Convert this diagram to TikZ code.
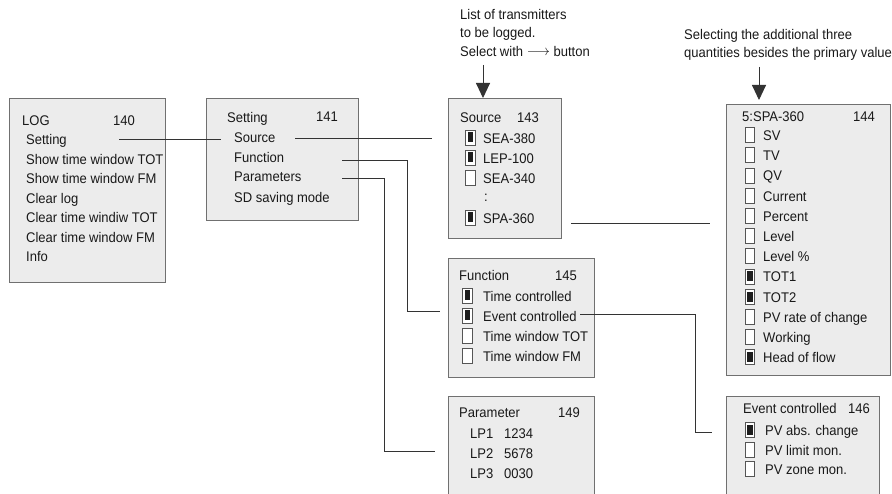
\documentclass[tikz,border=0pt]{standalone}
\usepackage{fontspec}
\setmainfont{Liberation Sans}[FakeStretch=0.93]
\usetikzlibrary{arrows.meta}
\definecolor{boxfill}{HTML}{ECECEC}
\definecolor{boxline}{HTML}{707070}
\definecolor{lineclr}{HTML}{333333}
\definecolor{cbline}{HTML}{555555}
\definecolor{cbfill}{HTML}{1E1E1E}
\begin{document}
\begin{tikzpicture}[x=1pt,y=-1pt,
  font=\fontsize{14}{16}\selectfont,
  box/.style={draw=boxline, fill=boxfill, line width=0.9pt, inner sep=0pt, anchor=north west},
  txt/.style={anchor=base west, inner sep=0pt, text=black!90},
  cb/.style={draw=cbline, fill=white, line width=0.7pt, minimum width=9.5pt, minimum height=15pt, inner sep=0pt},
  cbon/.style={cb, path picture={\fill[cbfill] ([shift={(2.2pt,2.5pt)}]path picture bounding box.south west) rectangle ([shift={(-2.2pt,-2.5pt)}]path picture bounding box.north east);}},
  conn/.style={draw=lineclr, line width=1pt},
  ann/.style={draw=lineclr, line width=0.9pt, -{Triangle[width=14pt,length=15pt]}}
]
\clip (0,0) rectangle (892,494);
\fill[white] (0,0) rectangle (892,494);

% ---------- boxes ----------
\node[box, minimum width=156pt, minimum height=184pt] (b140) at (9,98) {};
\node[box, minimum width=152pt, minimum height=122pt] (b141) at (206,98) {};
\node[box, minimum width=113pt, minimum height=140pt] (b143) at (448,98) {};
\node[box, minimum width=164pt, minimum height=271pt] (b144) at (726,104) {};
\node[box, minimum width=146pt, minimum height=119pt] (b145) at (448,258) {};
\node[box, minimum width=146pt, minimum height=130pt] (b149) at (448,396) {};
\node[box, minimum width=153pt, minimum height=130pt] (b146) at (726,396) {};

% ---------- box 140 ----------
\node[txt] (t140a) at (22,125.5) {LOG};
\node[txt] (t140n) at (113,125.5) {140};
\node[txt] (t140b) at (26,144.5) {Setting};
\node[txt] (t140c) at (26,164.5) {Show time window TOT};
\node[txt] (t140d) at (26,183.5) {Show time window FM};
\node[txt] (t140e) at (26,203.5) {Clear log};
\node[txt] (t140f) at (26,222.5) {Clear time windiw TOT};
\node[txt] (t140g) at (26,242.5) {Clear time window FM};
\node[txt] (t140h) at (26,261.5) {Info};

% ---------- box 141 ----------
\node[txt] (t141a) at (227,122.5) {Setting};
\node[txt] (t141n) at (316,122) {141};
\node[txt] (t141b) at (234,142.5) {Source};
\node[txt] (t141c) at (234,162.5) {Function};
\node[txt] (t141d) at (234,181.5) {Parameters};
\node[txt] (t141e) at (234,202.5) {SD saving mode};

% ---------- box 143 ----------
\node[txt] (t143a) at (460,122.5) {Source};
\node[txt] (t143n) at (517,122.5) {143};
\node[cbon] (c143a) at (470.5,137.5) {};
\node[txt] (t143b) at (483,143.5) {SEA-380};
\node[cbon] (c143b) at (470.5,157.5) {};
\node[txt] (t143c) at (483,163.5) {LEP-100};
\node[cb] (c143c) at (470.5,177.5) {};
\node[txt] (t143d) at (483,183.5) {SEA-340};
\node[txt] (t143e) at (484,202) {:};
\node[cbon] (c143f) at (470.5,217.5) {};
\node[txt] (t143f) at (483,223.5) {SPA-360};

% ---------- box 144 ----------
\node[txt] (t144a) at (742,121.5) {5:SPA-360};
\node[txt] (t144n) at (853,121.5) {144};
\node[cb]   (c144a) at (750,135) {};   \node[txt] (t144b) at (763,140.5) {SV};
\node[cb]   (c144b) at (750,155.2) {}; \node[txt] (t144c) at (763,160.7) {TV};
\node[cb]   (c144c) at (750,175.4) {}; \node[txt] (t144d) at (763,180.9) {QV};
\node[cb]   (c144d) at (750,195.6) {}; \node[txt] (t144e) at (763,201.1) {Current};
\node[cb]   (c144e) at (750,215.8) {}; \node[txt] (t144f) at (763,221.3) {Percent};
\node[cb]   (c144f) at (750,236) {};   \node[txt] (t144g) at (763,241.5) {Level};
\node[cb]   (c144g) at (750,256.2) {}; \node[txt] (t144h) at (763,261.7) {Level \%};
\node[cbon] (c144h) at (750,276.4) {}; \node[txt] (t144i) at (763,281.9) {TOT1};
\node[cbon] (c144i) at (750,296.6) {}; \node[txt] (t144j) at (763,302.1) {TOT2};
\node[cb]   (c144j) at (750,316.8) {}; \node[txt] (t144k) at (763,322.3) {PV rate of change};
\node[cb]   (c144k) at (750,337) {};   \node[txt] (t144l) at (763,342.5) {Working};
\node[cbon] (c144l) at (750,357.2) {}; \node[txt] (t144m) at (763,362.7) {Head of flow};

% ---------- box 145 ----------
\node[txt] (t145a) at (459,280.5) {Function};
\node[txt] (t145n) at (555,280.5) {145};
\node[cbon] (c145a) at (467.5,295.5) {}; \node[txt] (t145b) at (483,301.5) {Time controlled};
\node[cbon] (c145b) at (467.5,315.5) {}; \node[txt] (t145c) at (483,321.5) {Event controlled};
\node[cb]   (c145c) at (467.5,335.5) {}; \node[txt] (t145d) at (483,341.5) {Time window TOT};
\node[cb]   (c145d) at (467.5,355.5) {}; \node[txt] (t145e) at (483,361.5) {Time window FM};

% ---------- box 149 ----------
\node[txt] (t149a) at (459,417.5) {Parameter};
\node[txt] (t149n) at (558,417.5) {149};
\node[txt] (t149b) at (470,438.5) {LP1}; \node[txt] (t149c) at (504,438.5) {1234};
\node[txt] (t149d) at (470,458.5) {LP2}; \node[txt] (t149e) at (504,458.5) {5678};
\node[txt] (t149f) at (470,478.5) {LP3}; \node[txt] (t149g) at (504,478.5) {0030};

% ---------- box 146 ----------
\node[txt] (t146a) at (743,413.5) {Event controlled};
\node[txt] (t146n) at (848,413.5) {146};
\node[cbon] (c146a) at (750,430) {}; \node[txt] (t146b) at (765,435.5) {PV abs. change};
\node[cb]   (c146b) at (750,450) {}; \node[txt] (t146c) at (765,455.5) {PV limit mon.};
\node[cb]   (c146c) at (750,469) {}; \node[txt] (t146d) at (765,474.5) {PV zone mon.};

% ---------- annotations ----------
\node[txt] (n1a) at (460,19.5) {List of transmitters};
\node[txt] (n1b) at (460,38) {to be logged.};
\node[txt] (n1c) at (460,56.5) {Select with \raisebox{0.5pt}{$\longrightarrow$} button};
\node[txt] (n2a) at (684,39.5) {Selecting the additional three};
\node[txt] (n2b) at (684,57.5) {quantities besides the primary value};

\coordinate (a1s) at (483,65);
\coordinate (a2s) at (759,67);
\draw[ann] (a1s) -- (a1s |- b143.north);
\draw[ann] (a2s) -- ([yshift=4pt]a2s |- b144.north);

% ---------- connectors ----------
\coordinate (k1s) at (119,140);
\coordinate (k1e) at (221,140);
\draw[conn] (k1s) -- (k1e);

\coordinate (k2s) at (295,139);
\coordinate (k2e) at (432,139);
\draw[conn] (k2s) -- (k2e);

\coordinate (k3s) at (342,161);
\coordinate (k3e) at (440,312);
\draw[conn] (k3s) -- (407.5,161) |- (k3e);

\coordinate (k4s) at (342,179);
\coordinate (k4e) at (435,451);
\draw[conn] (k4s) -- (384,179) |- (k4e);

\coordinate (k5s) at (571,224);
\coordinate (k5e) at (710,224);
\draw[conn] (k5s) -- (k5e);

\coordinate (k6s) at (580,315);
\coordinate (k6e) at (712,432);
\draw[conn] (k6s) -- (695,315) |- (k6e);
\end{tikzpicture}
\end{document}
